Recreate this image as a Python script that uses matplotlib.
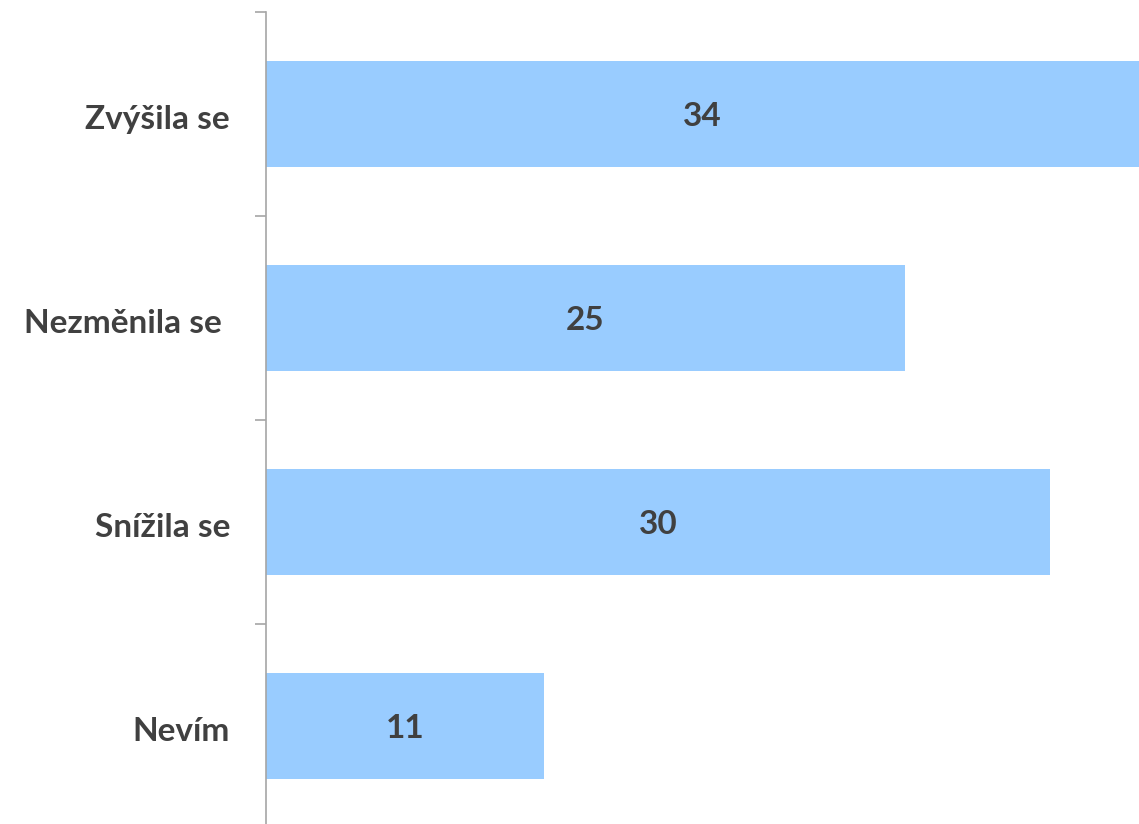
import matplotlib
matplotlib.use("Agg")
import matplotlib.pyplot as plt
import matplotlib.transforms as mtransforms
from matplotlib.ticker import FixedLocator, NullLocator

categories = ["Zvýšila se", "Nezměnila se ", "Snížila se", "Nevím"]
values = [34.0, 24.8, 30.45, 10.8]

bar_color = "#99CCFF"
text_color = "#404040"
axis_color = "#A6A6A6"
font = "Lato"

fig = plt.figure(figsize=(11.39, 8.24), dpi=100)
ax = fig.add_axes([266 / 1139, -4 / 824, 1 - 266 / 1139, 816 / 824])

n = len(categories)
ypos = list(range(n))
xmax = 33.9
ax.barh(ypos, values, height=0.52, color=bar_color, edgecolor="none", zorder=2)
ax.set_ylim(n - 0.5, -0.5)
ax.set_xlim(0, xmax)

shift = mtransforms.ScaledTranslation(0, -3 / 100, fig.dpi_scale_trans)
for y, v in zip(ypos, values):
    ax.text(min(v, xmax) / 2, y, f"{v:.0f}", ha="center", va="center",
            fontsize=24, fontweight="bold", color=text_color, family=font,
            transform=ax.transData + shift)

ax.set_yticks(ypos)
ax.set_yticklabels(categories, fontsize=24, fontweight="bold", color=text_color, family=font)
ax.tick_params(axis="y", which="major", length=0, pad=26)
for lbl in ax.get_yticklabels():
    lbl.set_transform(lbl.get_transform() + shift)
ax.yaxis.set_minor_locator(FixedLocator([i - 0.5 for i in range(n + 1)]))
ax.tick_params(axis="y", which="minor", length=8, width=1.2, color=axis_color, direction="out")

ax.xaxis.set_major_locator(NullLocator())
for s in ["top", "right", "bottom"]:
    ax.spines[s].set_visible(False)
ax.spines["left"].set_color(axis_color)
ax.spines["left"].set_linewidth(1.2)

fig.savefig("out.png", dpi=100, facecolor="white")
